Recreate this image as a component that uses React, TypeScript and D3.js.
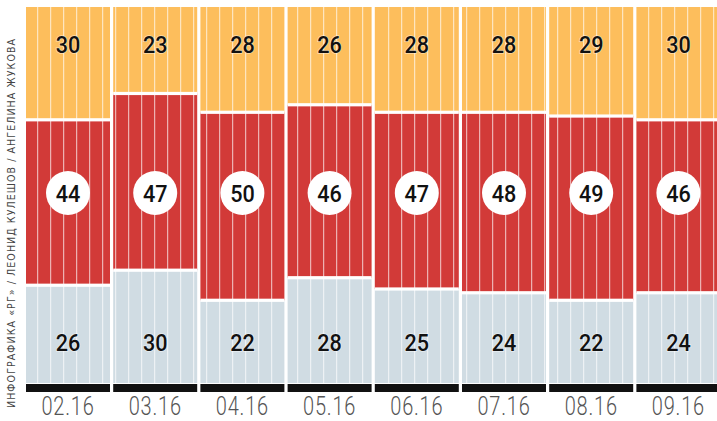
import React, { useEffect, useRef } from 'react';
import * as d3 from 'd3';

// months along the bottom
const months = ['02.16', '03.16', '04.16', '05.16', '06.16', '07.16', '08.16', '09.16'];
// shares, percent (bottom -> top)
const bottomVals = [26, 30, 22, 28, 25, 24, 22, 24];
const middleVals = [44, 47, 50, 46, 47, 48, 49, 46];
const topVals = [30, 23, 28, 26, 28, 28, 29, 30];

const credit = 'ИНФОГРАФИКА «РГ» / ЛЕОНИД КУЛЕШОВ / АНГЕЛИНА ЖУКОВА';

const colors = { bottom: '#d0dce3', middle: '#d23a38', top: '#fdbe5c' };
const numFont = 'Roboto, "DejaVu Sans Condensed", sans-serif';

export default function App() {
  const ref = useRef<SVGSVGElement>(null);

  useEffect(() => {
    const width = 717;
    const svg = d3.select(ref.current);
    svg.selectAll('*').remove();

    // x: one band per month
    const x = d3.scaleBand<string>()
      .domain(months)
      .range([26, 720.4])
      .paddingInner(3.2 / 87.2)
      .paddingOuter(0);

    // y: 0..100 percent
    const y = d3.scaleLinear().domain([0, 100]).range([383, 7]);

    const rows = months.map((m, i) => ({
      month: m,
      segs: [
        { key: 'bottom', y0: 0, y1: bottomVals[i], v: bottomVals[i] },
        { key: 'middle', y0: bottomVals[i], y1: bottomVals[i] + middleVals[i], v: middleVals[i] },
        { key: 'top', y0: bottomVals[i] + middleVals[i], y1: 100, v: topVals[i] },
      ],
    }));

    const gap = 1.6; // half of white gap between segments

    const col = svg.selectAll('g.col')
      .data(rows)
      .enter()
      .append('g')
      .attr('class', 'col');

    col.selectAll('rect.seg')
      .data(d => d.segs.map(s => ({ ...s, month: d.month })))
      .enter()
      .append('rect')
      .attr('x', d => x(d.month)!)
      .attr('width', x.bandwidth())
      .attr('y', d => y(d.y1))
      .attr('height', d => y(d.y0) - y(d.y1))
      .attr('fill', d => (colors as any)[d.key]);

    // thin white stripes, on a global 13px grid
    const stripes = d3.range(24.7, width, 13);
    col.each(function (d) {
      const x0 = x(d.month)!;
      const x1 = x0 + x.bandwidth();
      d3.select(this).selectAll('line.stripe')
        .data(stripes.filter(s => s > x0 + 1 && s < x1 - 1))
        .enter()
        .append('line')
        .attr('x1', s => s)
        .attr('x2', s => s)
        .attr('y1', y(100))
        .attr('y2', y(0))
        .attr('stroke', '#fff')
        .attr('stroke-opacity', 0.75)
        .attr('stroke-width', 1);
    });

    // white gaps between segments, over the stripes
    col.selectAll('rect.gap')
      .data(d => d.segs.filter(s => s.y0 > 0).map(s => ({ ...s, month: d.month })))
      .enter()
      .append('rect')
      .attr('x', d => x(d.month)!)
      .attr('width', x.bandwidth())
      .attr('y', d => y(d.y0) - gap)
      .attr('height', gap * 2)
      .attr('fill', '#fff');

    // black base bar
    col.append('rect')
      .attr('x', d => x(d.month)!)
      .attr('width', x.bandwidth())
      .attr('y', y(0) + 1)
      .attr('height', 8)
      .attr('fill', '#111');

    const cx = (m: string) => x(m)! + x.bandwidth() / 2;

    // month labels (condensed by a horizontal scale)
    col.append('text')
      .attr('transform', d => `translate(${cx(d.month)},415) scale(0.8,1)`)
      .attr('text-anchor', 'middle')
      .style('font-family', 'Roboto, sans-serif')
      .style('font-weight', 300)
      .style('font-size', '25px')
      .style('letter-spacing', '1px')
      .attr('fill', '#555')
      .text(d => d.month);

    // numbers
    const addNum = (yPos: number, vals: number[], halo: boolean) => {
      col.append('text')
        .attr('transform', d => `translate(${cx(d.month)},${yPos}) scale(0.9,1)`)
        .attr('dy', '0.36em')
        .attr('text-anchor', 'middle')
        .style('font-family', numFont)
        .style('font-size', '24px')
        .style('font-weight', 500)
        .style('paint-order', 'stroke')
        .attr('stroke', halo ? '#fff' : 'none')
        .attr('stroke-opacity', 0.5)
        .attr('stroke-width', 1.5)
        .attr('fill', '#111')
        .text((d, i) => vals[i]);
    };

    addNum(44, topVals, true);

    col.append('circle')
      .attr('cx', d => cx(d.month))
      .attr('cy', 193)
      .attr('r', 22)
      .attr('fill', '#fff');

    addNum(193, middleVals, false);
    addNum(342, bottomVals, true);

    // credit line on the left
    svg.append('text')
      .attr('transform', 'translate(15, 223.5) rotate(-90)')
      .attr('text-anchor', 'middle')
      .attr('textLength', 369)
      .attr('lengthAdjust', 'spacing')
      .style('font-family', '"DejaVu Sans Condensed", sans-serif')
      .style('font-size', '10.5px')
      .attr('fill', '#444')
      .text(credit);
  }, []);

  return (
    <svg ref={ref} width={717} height={421}
      style={{ position: 'absolute', left: 0, top: 0, background: '#fff' }} />
  );
}
